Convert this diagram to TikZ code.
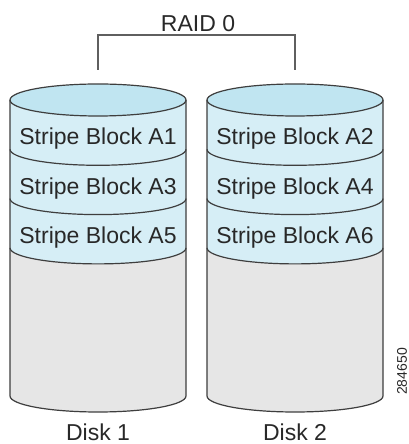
\documentclass[tikz,border=0pt]{standalone}
\usepackage{fontspec}
\setmainfont{Liberation Sans}
\usetikzlibrary{calc, positioning}
\definecolor{stripeblue}{RGB}{214,238,246}
\definecolor{topblue}{RGB}{192,229,241}
\definecolor{diskgray}{RGB}{230,230,230}
\definecolor{edgegray}{RGB}{62,62,62}
\definecolor{bracketgray}{RGB}{95,95,95}
\definecolor{textgray}{RGB}{40,40,40}
\def\rowh{49.3}
\tikzset{
    bigtext/.style = {
        font=\fontsize{23}{26}\selectfont, text=textgray, inner sep=0pt, anchor=base
    },
    edge/.style = {
        draw=edgegray, line width=1.2pt
    },
    bracket/.style = {
        draw=bracketgray, line width=1.1pt
    },
    Disk/.pic = {
        % body fills
        \fill[diskgray] (-88,-3*\rowh) arc (180:360:88pt and 16pt) -- (88,-296) arc (0:-180:88pt and 16pt) -- cycle;
        \fill[stripeblue] (-88,0) -- (-88,-3*\rowh) arc (180:360:88pt and 16pt) -- (88,0) -- cycle;
        \path[edge, fill=topblue] (0,0) ellipse (88pt and 16pt);
        % outline and stripe borders
        \draw[edge] (-88,0) -- (-88,-296) arc (180:360:88pt and 16pt) -- (88,0);
        \foreach \k in {1,2,3}{
            \draw[edge] (-88,-\k*\rowh) arc (180:360:88pt and 16pt);
            \pgfmathtruncatemacro{\n}{2*\k-2+#1}
            \node[bigtext] (-b\k) at (0,-45-\k*\rowh+\rowh) {Stripe Block A\n};
        }
        \coordinate (-top) at (0,16);
        \node[bigtext] (-label) at (0,-340) {Disk #1};
    },
}
\begin{document}
\begin{tikzpicture}[x=1pt, y=1pt]
        \useasboundingbox (0,0) rectangle (409,444);

        % Place the disks
        \pic (disk1) at (98,344) {Disk=1};
        \pic (disk2) at (295,344) {Disk=2};

        % Label and bracket
        \node[bigtext] (raid) at (198,412) {RAID 0};
        \draw[bracket] ([yshift=14pt]disk1-top) |- ([yshift=-3pt]raid.base) -| ([yshift=14pt]disk2-top);

        % Figure number
        \node[font=\fontsize{14}{14}\selectfont, text=textgray, rotate=90, inner sep=0pt] (fignum) at (402,72.5) {284650};
    \end{tikzpicture}
\end{document}
